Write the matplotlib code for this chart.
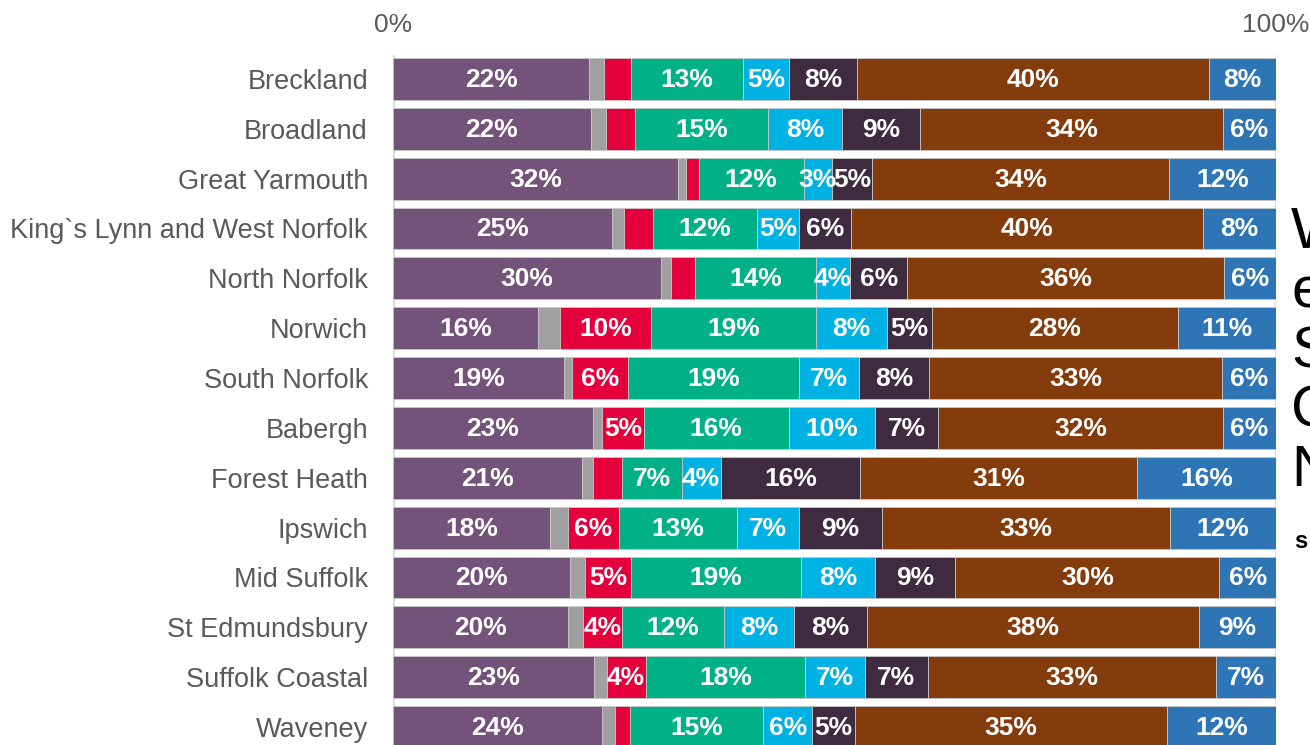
import matplotlib
matplotlib.use("Agg")
import numpy as np
from matplotlib import pyplot as plt

plt.rcParams['font.family'] = ['Liberation Sans', 'DejaVu Sans']

# districts, top to bottom
districts = ['Breckland', 'Broadland', 'Great Yarmouth', 'King`s Lynn and West Norfolk',
             'North Norfolk', 'Norwich', 'South Norfolk', 'Babergh', 'Forest Heath',
             'Ipswich', 'Mid Suffolk', 'St Edmundsbury', 'Suffolk Coastal', 'Waveney']

# shares (%) of each segment
purple = [22.2, 22.4, 32.3, 24.8, 30.4, 16.4, 19.4, 22.6, 21.4, 17.8, 20.1, 19.8, 22.8, 23.7]
grey   = [1.7, 1.7, 0.9, 1.4, 1.1, 2.5, 0.9, 1.1, 1.2, 2.0, 1.7, 1.7, 1.4, 1.4]
red    = [3.1, 3.3, 1.4, 3.3, 2.7, 10.3, 6.3, 4.7, 3.3, 5.8, 5.2, 4.4, 4.4, 1.7]
green  = [12.6, 15.1, 11.9, 11.7, 13.7, 18.7, 19.4, 16.4, 6.8, 13.4, 19.2, 11.6, 18.1, 15.1]
cyan   = [5.3, 8.4, 3.2, 4.8, 3.9, 8.1, 6.8, 9.8, 4.4, 7.0, 8.4, 7.9, 6.7, 5.6]
dark   = [7.6, 8.8, 4.6, 5.9, 6.4, 5.0, 7.9, 7.1, 15.8, 9.4, 9.1, 8.3, 7.2, 4.8]
brown  = [39.9, 34.3, 33.6, 39.8, 35.9, 27.9, 33.2, 32.3, 31.4, 32.6, 29.9, 37.6, 32.6, 35.4]
blue   = [7.6, 6.0, 12.1, 8.3, 5.9, 11.1, 6.1, 6.0, 15.7, 12.0, 6.4, 8.7, 6.8, 12.3]

series = [purple, grey, red, green, cyan, dark, brown, blue]
colours = ['#74537A', '#A0A0A0', '#E4003B', '#00B187', '#00B2E3', '#3E2B40', '#843C0C', '#2E75B6']
# smallest value that still gets a label in each series
show_min = [0, 999, 4, 0, 0, 0, 0, 0]

fig = plt.figure(figsize=(13.1, 7.45), dpi=100)
ax = fig.add_axes([393 / 1310, 0, 883 / 1310, 690 / 745])

y = np.arange(len(districts))
left = np.zeros(len(districts))
for vals, col, mn in zip(series, colours, show_min):
    vals = np.array(vals)
    ax.barh(y, vals, left=left, height=0.84, color=col, edgecolor='#c8c8c8', linewidth=0.6, zorder=3)
    for yi, l, v in zip(y, left, vals):
        if v >= mn:
            ax.text(l + v / 2, yi + 0.02, f'{v:.0f}%', ha='center', va='center',
                    color='white', fontsize=19, fontweight='bold', zorder=4)
    left += vals

ax.set_xlim(0, 100)
ax.set_ylim(13.36, -0.48)
ax.set_yticks(y)
ax.set_yticklabels(districts, fontsize=19.5, color='#595959')
ax.set_xticks([0, 100])
ax.set_xticklabels(['0%', '100%'], fontsize=19, color='#595959')
ax.xaxis.tick_top()
ax.tick_params(axis='both', length=0)
ax.tick_params(axis='x', pad=13)
ax.tick_params(axis='y', pad=18)
ax.xaxis.grid(True, color='#d9d9d9', linewidth=2, zorder=0)
for s in ax.spines.values():
    s.set_visible(False)

# text box to the right, mostly outside the picture
letters = ['W', 'e', 'S', 'C', 'N']
for i, ch in enumerate(letters):
    fig.text(1291 / 1310, 1 - (248 + 59.5 * i) / 745, ch, fontsize=42, color='black',
             ha='left', va='baseline')
fig.text(1294 / 1310, 1 - 548 / 745, 's', fontsize=17, fontweight='bold', color='black',
         ha='left', va='baseline')

fig.savefig('out.png', dpi=100)
